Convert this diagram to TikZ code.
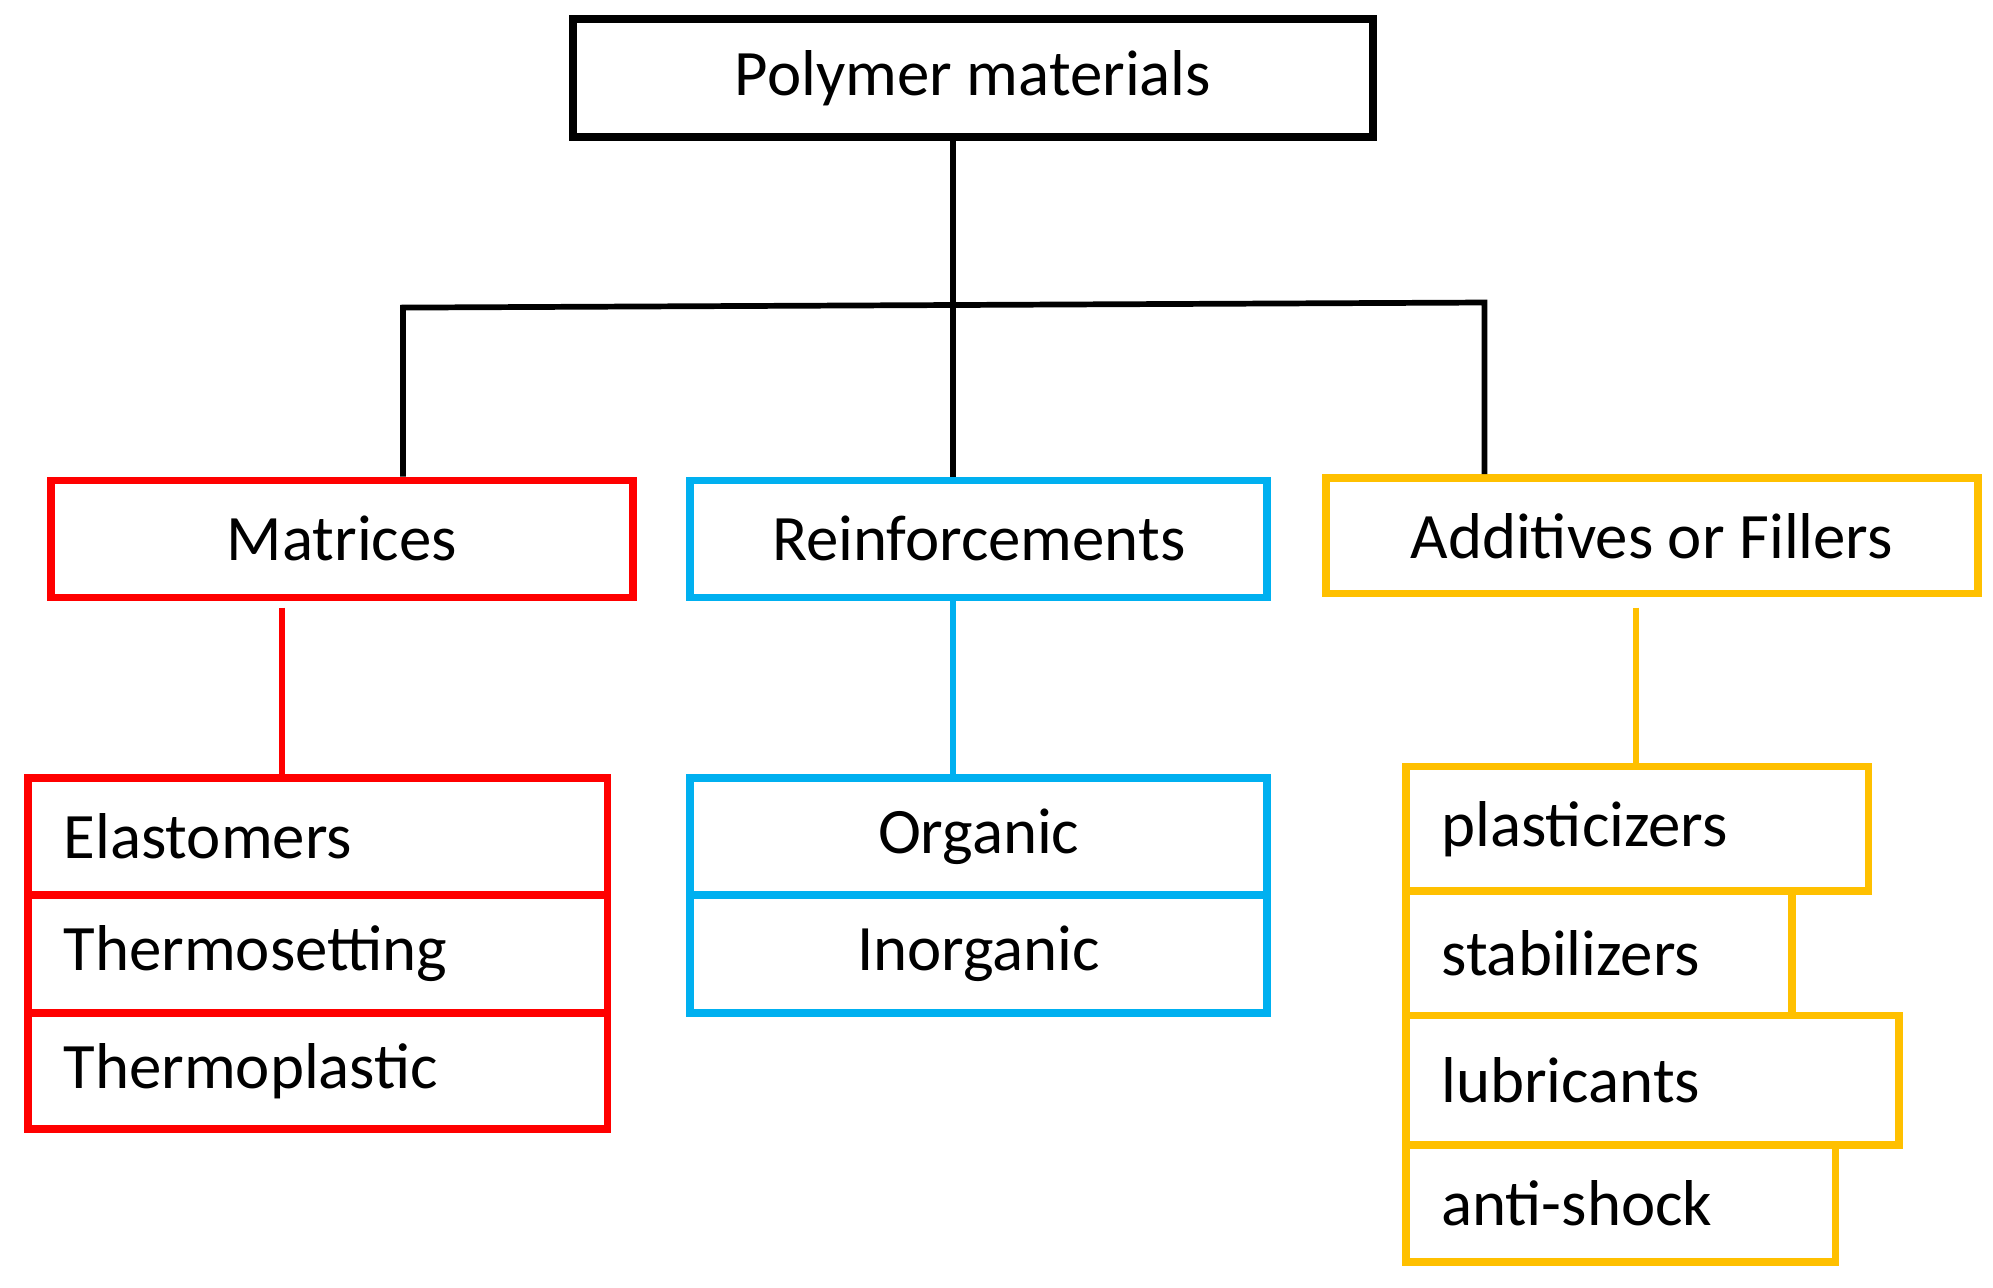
\documentclass[tikz,border=0pt]{standalone}
\usepackage{fontspec}
\setmainfont{Carlito}
\definecolor{cred}{RGB}{255,0,0}
\definecolor{ccyan}{RGB}{0,176,240}
\definecolor{cora}{RGB}{255,192,0}
\begin{document}
\begin{tikzpicture}[x=1pt,y=-1pt,
  box/.style={draw,line width=6pt,inner sep=0pt,font=\fontsize{51}{58}\selectfont},
  lbox/.style={box,align=left,text width=#1-56pt,minimum width=#1},
  conn/.style={line width=4.5pt}]
\useasboundingbox (0,0) rectangle (1568,1013);
\node[box,minimum width=629pt,minimum height=93pt] (top) at (765.5,61.5) {Polymer materials};
\node[box,cred,text=black,minimum width=458pt,minimum height=92pt] (mat) at (269,424) {Matrices};
\node[box,ccyan,text=black,minimum width=454pt,minimum height=92pt] (rei) at (770,424) {Reinforcements};
\node[box,cora,text=black,minimum width=513pt,minimum height=91pt] (add) at (1299.5,421.5) {Additives or Fillers};
\coordinate (bl) at (317,242); \coordinate (br) at (1168,238); \coordinate (bm) at (750,242);
\draw[conn] (top.south -| bm) -- (rei.north -| bm);
\draw[conn] (mat.north -| bl) -- (bl) -- (br) -- (add.north -| br);
% red
\node[lbox=456pt,cred,text=black,minimum height=92pt] (e1) at (250,658) {Elastomers};
\node[lbox=456pt,cred,text=black,minimum height=93pt] (e2) at (250,750.5) {Thermosetting};
\node[lbox=456pt,cred,text=black,minimum height=91pt] (e3) at (250,842.5) {Thermoplastic};
\draw[conn,cred] (222,478) coordinate (r0) -- (e1.north -| r0);
% cyan
\node[box,ccyan,text=black,minimum width=454pt,minimum height=92pt] (o1) at (770,658) {Organic};
\node[box,ccyan,text=black,minimum width=454pt,minimum height=93pt] (o2) at (770,750.5) {Inorganic};
\draw[conn,ccyan] (rei.south -| bm) -- (o1.north -| bm);
% orange
\node[lbox=364pt,cora,text=black,minimum height=98pt] (a1) at (1288,652) {plasticizers};
\node[lbox=304pt,cora,text=black,minimum height=98pt] (a2) at (1258,750) {stabilizers};
\node[lbox=388pt,cora,text=black,minimum height=102pt] (a3) at (1300,850) {lubricants};
\node[lbox=338pt,cora,text=black,minimum height=92pt] (a4) at (1275,947) {anti-shock};
\draw[conn,cora] (1287,478) coordinate (o0) -- (a1.north -| o0);
\end{tikzpicture}
\end{document}
